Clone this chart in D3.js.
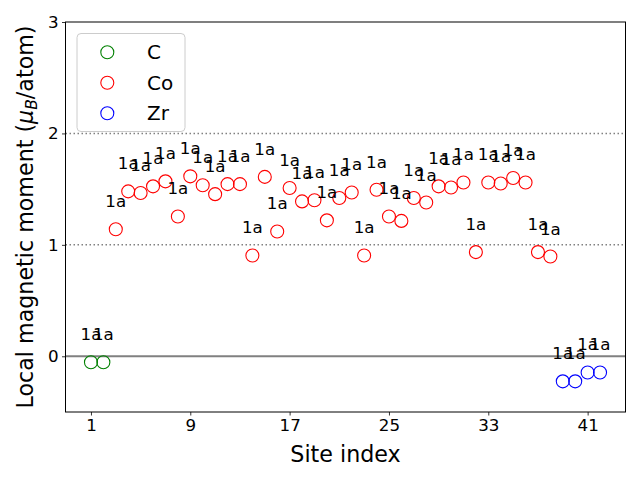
<!DOCTYPE html>
<html>
<head>
<meta charset="utf-8">
<script src="https://cdn.jsdelivr.net/npm/d3@7"></script>
<style>
body { margin: 0; background: #fff; }
svg { display: block; font-family: "DejaVu Sans", sans-serif; }
</style>
</head>
<body>
<svg id="chart" width="640" height="480"></svg>
<script>
// Data
const siteIndex = d3.range(1, 43);
const elements = ["C","C",
  "Co","Co","Co","Co","Co","Co","Co","Co","Co","Co","Co","Co","Co","Co","Co","Co","Co","Co",
  "Co","Co","Co","Co","Co","Co","Co","Co","Co","Co","Co","Co","Co","Co","Co","Co","Co","Co",
  "Zr","Zr","Zr","Zr"];
const moments = [-0.054, -0.054,
  1.14, 1.48, 1.465, 1.525, 1.57, 1.255, 1.615, 1.535, 1.455, 1.545, 1.545, 0.905, 1.61, 1.12,
  1.51, 1.39, 1.40, 1.22, 1.42, 1.47, 0.905, 1.495, 1.255, 1.215, 1.42, 1.38, 1.525, 1.515,
  1.56, 0.935, 1.56, 1.55, 1.60, 1.56, 0.935, 0.895,
  -0.225, -0.225, -0.145, -0.145];
const wyckoff = siteIndex.map(() => "1a");
const legendLabels = ["C", "Co", "Zr"];
const legendColors = ["green", "red", "blue"];
const xTicks = [1, 9, 17, 25, 33, 41];
const yTicks = [0, 1, 2, 3];
const refLines = [1, 2];

const svg = d3.select("#chart");
const L = 65.5, R = 625.5, T = 22, B = 412;
const x = d3.scaleLinear().domain([-1.05, 44.05]).range([L, R]);
const y = d3.scaleLinear().domain([-0.5, 3]).range([B, T]);
const color = d3.scaleOrdinal().domain(legendLabels).range(legendColors);

// reference lines
svg.selectAll("line.ref").data(refLines).enter().append("line")
  .attr("x1", L).attr("x2", R)
  .attr("y1", d => y(d)).attr("y2", d => y(d))
  .attr("stroke", "gray").attr("stroke-width", 1.5)
  .attr("stroke-dasharray", "1.5,2.5");
svg.append("line")
  .attr("x1", L).attr("x2", R).attr("y1", y(0)).attr("y2", y(0))
  .attr("stroke", "gray").attr("stroke-width", 2);

const data = siteIndex.map((s, i) => ({s, el: elements[i], v: moments[i], lab: wyckoff[i]}));

// points
svg.selectAll("circle.pt").data(data).enter().append("circle")
  .attr("cx", d => x(d.s)).attr("cy", d => y(d.v)).attr("r", 6.5)
  .attr("fill", "none").attr("stroke", d => color(d.el)).attr("stroke-width", 1.1);

// labels
svg.selectAll("text.lab").data(data).enter().append("text")
  .attr("x", d => x(d.s)).attr("y", d => y(d.v) - 22)
  .attr("text-anchor", "middle").attr("font-size", 16.7).attr("fill", "black")
  .text(d => d.lab);

// axes
const xAxis = d3.axisBottom(x).tickValues(xTicks).tickFormat(d3.format("d")).tickSize(3.5).tickPadding(3.5);
const gx = svg.append("g").attr("transform", `translate(0,${B})`).call(xAxis);
const yAxis = d3.axisLeft(y).tickValues(yTicks).tickFormat(d3.format("d")).tickSize(3.5).tickPadding(3.5);
const gy = svg.append("g").attr("transform", `translate(${L},0)`).call(yAxis);
[gx, gy].forEach(g => {
  g.select(".domain").remove();
  g.selectAll(".tick line").attr("stroke", "black").attr("stroke-width", 0.8);
  g.selectAll(".tick text").attr("font-size", 16.7).attr("font-family", "DejaVu Sans").attr("fill", "black");
});

// frame
svg.append("rect").attr("x", L).attr("y", T).attr("width", R - L).attr("height", B - T)
  .attr("fill", "none").attr("stroke", "black").attr("stroke-width", 1);

// axis labels
svg.append("text").attr("x", (L + R) / 2).attr("y", 462)
  .attr("text-anchor", "middle").attr("font-size", 22.2).text("Site index");
const yl = svg.append("text").attr("transform", `translate(33,${(T + B) / 2}) rotate(-90)`)
  .attr("text-anchor", "middle").attr("font-size", 22.2);
yl.append("tspan").text("Local magnetic moment (");
yl.append("tspan").attr("font-style", "italic").text("μ");
yl.append("tspan").attr("font-style", "italic").attr("font-size", 15.5).attr("dy", 4).text("B");
yl.append("tspan").attr("dy", -4).text("/atom)");

// legend
const lg = svg.append("g");
lg.append("rect").attr("x", 77).attr("y", 33.5).attr("width", 108).attr("height", 98)
  .attr("rx", 4).attr("fill", "white").attr("fill-opacity", 0.8)
  .attr("stroke", "#cccccc").attr("stroke-width", 1);
const ly = [52.3, 82.8, 113.3];
legendLabels.forEach((lab, i) => {
  lg.append("circle").attr("cx", 107.3).attr("cy", ly[i]).attr("r", 6.5)
    .attr("fill", "none").attr("stroke", color(lab)).attr("stroke-width", 1.1);
  lg.append("text").attr("x", 147).attr("y", ly[i] + 7).attr("font-size", 20).text(lab);
});
</script>
</body>
</html>
